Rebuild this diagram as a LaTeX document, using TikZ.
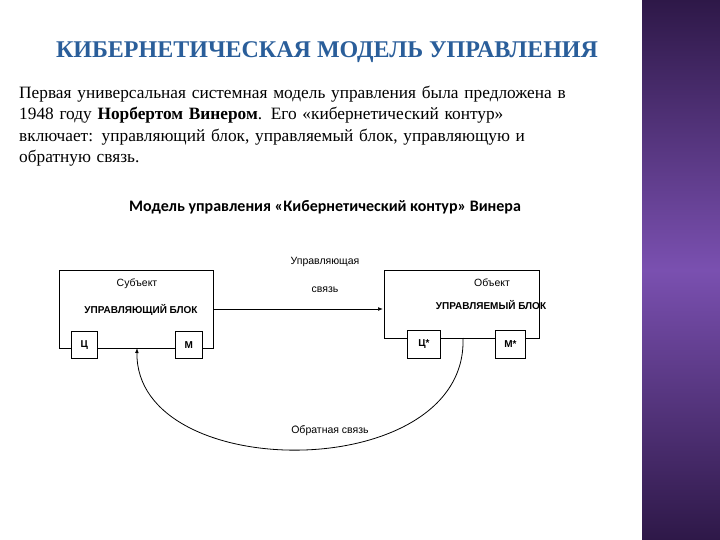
\documentclass[tikz,border=0pt]{standalone}
\usepackage{fontspec}
\usetikzlibrary{arrows.meta}
\setmainfont{Liberation Serif}
\newfontfamily\carl{Carlito}
\newfontfamily\dej{Liberation Sans}
\definecolor{sbdark}{HTML}{2E1848}
\definecolor{sblight}{HTML}{7A50B0}
\definecolor{ttl}{HTML}{2A5E9A}
\tikzset{
  box/.style={draw,line width=0.8pt},
  small/.style={font=\dej\fontsize{10.5}{12}\selectfont},
  smallb/.style={font=\dej\bfseries\fontsize{10}{12}\selectfont},
}
\begin{document}
\begin{tikzpicture}[x=1pt,y=-1pt]
\useasboundingbox (0,0) rectangle (720,540);
\fill[white] (0,0) rectangle (720,540);
\fill[top color=sbdark, bottom color=sblight] (642,0) rectangle (720,270);
\fill[bottom color=sbdark, top color=sblight] (642,270) rectangle (720,540);
\node[font=\bfseries\fontsize{24}{26}\selectfont, text=ttl] (title) at (327,52) {КИБЕРНЕТИЧЕСКАЯ МОДЕЛЬ УПРАВЛЕНИЯ};
\node[anchor=north west, align=left, font=\fontsize{17.3}{21.3}\selectfont, text width=640, inner sep=0pt] (para) at (19,86) {Первая универсальная системная модель управления была предложена в\\1948 году \textbf{Норбертом Винером}. Его «кибернетический контур»\\включает: управляющий блок, управляемый блок, управляющую и\\обратную связь.};
\node[font=\carl\bfseries\fontsize{16}{18}\selectfont] (sub) at (325,207) {Модель управления «Кибернетический контур» Винера};
% left block
\node[box, minimum width=154, minimum height=78, anchor=north west] (L) at (59,270) {};
\node[small] (subj) at (137,284) {Субъект};
\node[smallb] (lb) at (141,310) {УПРАВЛЯЮЩИЙ БЛОК};
\node[box, fill=white, minimum width=26, minimum height=27, anchor=north west, smallb] (c1) at (71,331) {Ц};
\node[box, fill=white, minimum width=27, minimum height=27, anchor=north west, smallb] (m1) at (175,331) {М};
% right block
\node[box, minimum width=155, minimum height=68, anchor=north west] (R) at (384,270) {};
\node[small] (obj) at (492,283) {Объект};
\node[smallb] (rb) at (491,305) {УПРАВЛЯЕМЫЙ БЛОК};
\node[box, fill=white, minimum width=33, minimum height=28, anchor=north west, smallb] (c2) at (407,330) {Ц*};
\node[box, fill=white, minimum width=30, minimum height=28, anchor=north west, smallb] (m2) at (495,330) {М*};
% labels
\node[small] (u1) at (325,262) {Управляющая};
\node[small] (u2) at (325,290) {связь};
\node[small, fill=white, inner sep=1pt] (ob) at (330,431) {Обратная связь};
\coordinate (a1) at (213,309);
\coordinate (a2) at (383,309);
\draw[-{Latex[length=5pt]}, line width=0.7pt] (a1) -- (a2);
\coordinate (f1) at (463,338);
\coordinate (f2) at (137,348);
\draw[-{Latex[length=5pt]}, line width=0.8pt] (f1) .. controls (468,485) and (135,485) .. (f2);
\node[small, fill=white, inner sep=0.5pt] at (330,431) {Обратная связь};
\end{tikzpicture}
\end{document}
